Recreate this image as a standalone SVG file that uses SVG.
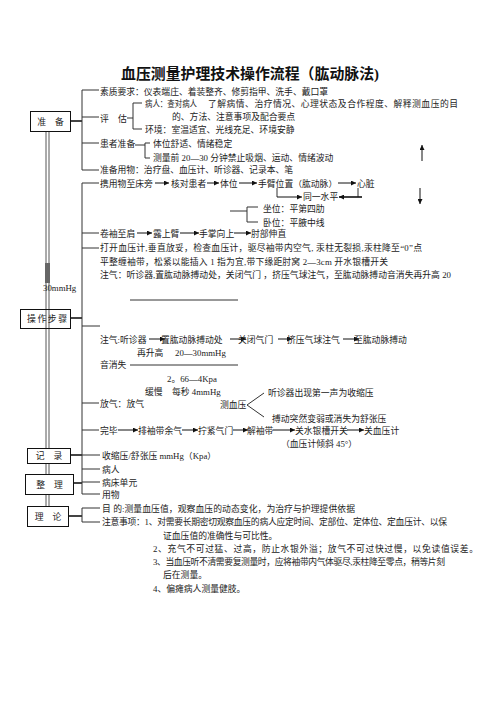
<svg xmlns="http://www.w3.org/2000/svg" width="496" height="702" viewBox="0 0 496 702">
<defs>
<style>
text{font-family:"Liberation Serif","Noto Sans CJK SC",serif;font-size:8.8px;fill:#222}
.title{font-size:15px;font-weight:bold;fill:#111}
.box{fill:none;stroke:#111;stroke-width:1}
.ln{stroke:#333;stroke-width:1;fill:none}
.thk{stroke:#444;stroke-width:2;fill:none}
.dbl{stroke:#444;stroke-width:0.9;fill:none}
.ar{stroke:#111;stroke-width:1;fill:none;marker-end:url(#ah)}
</style>
<marker id="ah" viewBox="0 0 6 6" refX="6" refY="3" markerWidth="6" markerHeight="5" markerUnits="userSpaceOnUse" orient="auto"><path d="M0,0 L6,3 L0,6 z" fill="#111"/></marker>
</defs>
<rect width="496" height="702" fill="#fff"/>
<text class="title" x="250" y="79" text-anchor="middle" textLength="258" lengthAdjust="spacingAndGlyphs">血压测量护理技术操作流程（肱动脉法)</text>

<g id="connectors">
<path class="dbl" d="M46,131.5 V448.5 M49,131.5 V448.5 M46,463.5 V474.5 M49,463.5 V474.5 M46,494.5 V506.5 M49,494.5 V506.5"/>
<rect x="45" y="263" width="5" height="20" fill="#666"/>
<path class="thk" d="M70.5,121 H82 M70.5,318 H82 M70.5,455 H82 M73.5,483 H82 M68.5,516 H82"/>
<path class="ln" d="M82,90 V170 M82,90 H99 M82,117 H99 M82,143 H99 M82,170 H99"/>
<path class="ln" d="M127,118 H133 M133,103 V129 M133,103 H142 M133,129 H142"/>
<path class="ln" d="M135,145 H145 M145,143 V158 M145,143 H150 M145,158 H150"/>
<path class="ln" d="M82,183 V494 M82,183 H99 M82,233 H99 M82,248 H99 M82,326 H100 M82,403 H99 M82,430 H99 M82,455 H100 M82,469 H100 M82,482 H100 M82,494 H100"/>
<path class="ln" d="M82,508 V522 M82,508 H100 M82,522 H100"/>
<line class="ar" x1="155" y1="183" x2="169" y2="183"/>
<line class="ar" x1="207" y1="183" x2="219" y2="183"/>
<line class="ar" x1="239" y1="183" x2="257" y2="183"/>
<line class="ar" x1="338" y1="183" x2="356" y2="183"/>
<path class="ln" d="M277,188 V197"/>
<line class="ar" x1="277" y1="197" x2="302" y2="197"/>
<path class="ln" d="M358,188 V197"/>
<line class="ar" x1="362" y1="197" x2="339" y2="197" style="stroke-width:1.6"/>
<path class="ln" d="M230,211 H247 M247,207 V222 M247,207 H258 M247,222 H258"/>
<line class="ar" x1="422" y1="161" x2="422" y2="145"/>
<line class="ar" x1="420" y1="188" x2="420" y2="204"/>
<line class="ar" x1="137" y1="233" x2="152" y2="233"/>
<line class="ar" x1="180" y1="233" x2="199" y2="233"/>
<line class="ar" x1="234" y1="233" x2="251" y2="233"/>
<path class="ln" d="M130,300 H238 M130,365 H238"/>
<line class="ar" x1="149" y1="339" x2="165" y2="339"/>
<line class="ar" x1="230" y1="339" x2="246" y2="339"/>
<line class="ar" x1="278" y1="339" x2="292" y2="339"/>
<line class="ar" x1="343" y1="339" x2="359" y2="339"/>
<path class="ln" d="M264,393 L247,405 L264,417"/>
<line class="ar" x1="118" y1="430" x2="138" y2="430"/>
<line class="ar" x1="182" y1="430" x2="198" y2="430"/>
<line class="ar" x1="233" y1="430" x2="248" y2="430"/>
<line class="ar" x1="273" y1="430" x2="295" y2="430"/>
<line class="ar" x1="347" y1="430" x2="364" y2="430"/>
</g>

<g id="node-prep">
<rect class="box" x="30.5" y="111.5" width="40" height="20"/>
<text x="50.5" y="125" text-anchor="middle">准　备</text>
</g>
<g id="node-op">
<rect class="box" x="20.5" y="309.5" width="50" height="19"/>
<text x="47" y="322" text-anchor="middle" textLength="40" lengthAdjust="spacing">操作步骤</text>
</g>
<g id="node-record">
<rect class="box" x="27.5" y="448.5" width="43" height="15"/>
<text x="49" y="459" text-anchor="middle">记　录</text>
</g>
<g id="node-tidy">
<rect class="box" x="25.5" y="474.5" width="48" height="20"/>
<text x="49.5" y="488" text-anchor="middle">整　理</text>
</g>
<g id="node-theory">
<rect class="box" x="27.5" y="506.5" width="41" height="20"/>
<text x="48" y="520" text-anchor="middle">理　论</text>
</g>

<g id="prep-items">
<text x="100" y="95" textLength="228" lengthAdjust="spacing">素质要求：仪表端庄、着装整齐、修剪指甲、洗手、戴口罩</text>
<text x="100" y="121.5">评</text><text x="118" y="121.5">估</text>
<text x="145" y="106.5" textLength="52" lengthAdjust="spacingAndGlyphs">病人：查对病人</text>
<text x="208" y="106.5" textLength="250" lengthAdjust="spacing">了解病情、治疗情况、心理状态及合作程度、解释测血压的目</text>
<text x="172" y="119.5">的、方法、注意事项及配合要点</text>
<text x="145" y="132.5">环境：室温适宜、光线充足、环境安静</text>
<text x="100" y="146.5">患者准备</text>
<text x="153" y="146.5">体位舒适、情绪稳定</text>
<text x="153" y="161">测量前 20—30 分钟禁止吸烟、运动、情绪波动</text>
<text x="100" y="173" textLength="193" lengthAdjust="spacing">准备用物：治疗盘、血压计、听诊器、记录本、笔</text>
</g>

<g id="op-items">
<text x="100" y="186.5">携用物至床旁</text>
<text x="171" y="186.5">核对患者</text>
<text x="220" y="186.5">体位</text>
<text x="258" y="186.5">手臂位置（肱动脉）</text>
<text x="357" y="186.5">心脏</text>
<text x="303" y="200">同一水平</text>
<text x="263" y="211.5">坐位：平第四肋</text>
<text x="263" y="225.5">卧位：平腋中线</text>
<text x="100" y="236.5">卷袖至肩</text>
<text x="153" y="236.5">露上臂</text>
<text x="199" y="236.5">手掌向上</text>
<text x="251" y="236.5">肘部伸直</text>
<text x="100" y="251" textLength="322" lengthAdjust="spacing">打开血压计,垂直放妥，检查血压计，驱尽袖带内空气, 汞柱无裂损,汞柱降至“0”点</text>
<text x="100" y="264.5" textLength="288" lengthAdjust="spacing">平整缠袖带，松紧以能插入 1 指为宜,带下缘距肘窝 2—3cm    开水银槽开关</text>
<text x="100" y="277.5" textLength="351" lengthAdjust="spacing">注气：听诊器,置肱动脉搏动处，关闭气门 ，挤压气球注气，至肱动脉搏动音消失再升高 20</text>
<text x="43" y="290.5">30mmHg</text>
<text x="100" y="342.5">注气:听诊器</text>
<text x="161" y="342.5">置肱动脉搏动处</text>
<text x="238" y="342.5">关闭气门</text>
<text x="287" y="342.5">挤压气球注气</text>
<text x="354" y="342.5">至肱动脉搏动</text>
<text x="137" y="355.5">再升高</text>
<text x="175" y="355.5">20—30mmHg</text>
<text x="100" y="368">音消失</text>
<text x="167" y="381.5">2。66—4Kpa</text>
<text x="145" y="394.5">缓慢</text>
<text x="172" y="394.5">每秒 4mmHg</text>
<text x="100" y="406.5">放气：放气</text>
<text x="220" y="408">测血压</text>
<text x="268" y="395.5">听诊器出现第一声为收缩压</text>
<text x="272" y="421.5">搏动突然变弱或消失为舒张压</text>
<text x="100" y="433.5">完毕</text>
<text x="138" y="433.5">排袖带余气</text>
<text x="198" y="433.5">拧紧气门</text>
<text x="247" y="433.5">解袖带</text>
<text x="295" y="433.5">关水银槽开关</text>
<text x="364" y="433.5">关血压计</text>
<text x="281" y="446.5">（血压计倾斜 45°）</text>
</g>

<g id="record-items">
<text x="102" y="458.5">收缩压/舒张压 mmHg（Kpa）</text>
<text x="102" y="472.5">病人</text>
<text x="102" y="485.5">病床单元</text>
<text x="102" y="497.5">用物</text>
</g>

<g id="theory-items">
<text x="102" y="511.5" textLength="253" lengthAdjust="spacing">目 的:测量血压值，观察血压的动态变化，为治疗与护理提供依据</text>
<text x="102" y="525" textLength="345" lengthAdjust="spacing">注意事项：1、对需要长期密切观察血压的病人应定时间、定部位、定体位、定血压计、以保</text>
<text x="163" y="538.5">证血压值的准确性与可比性。</text>
<text x="153" y="551.5" textLength="325" lengthAdjust="spacing">2、充气不可过猛、过高，防止水银外溢；放气不可过快过慢，以免读值误差。</text>
<text x="153" y="564.5" textLength="292" lengthAdjust="spacing">3、当血压听不清需要复测量时，应将袖带内气体驱尽,汞柱降至零点，稍等片刻</text>
<text x="163" y="577.5">后在测量。</text>
<text x="153" y="591.5">4、偏瘫病人测量健肢。</text>
</g>
</svg>
